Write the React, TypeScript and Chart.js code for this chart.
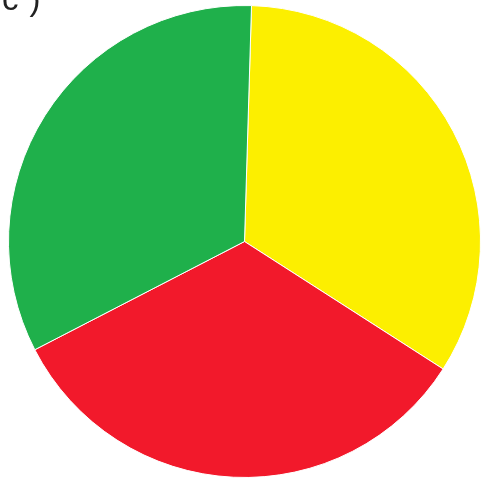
import React, { useEffect, useRef } from "react";
import { Chart, registerables } from "chart.js";

Chart.register(...registerables);

const categories = ["Yellow", "Red", "Green"];
const values = [121, 120, 119];
const colors = ["#fcef00", "#f2192b", "#1fb04b"];
const panelLabel = "c)";

export default function App() {
  const ref = useRef<HTMLCanvasElement | null>(null);
  useEffect(() => {
    document.body.style.margin = "0";
    const chart = new Chart(ref.current!, {
      type: "pie",
      data: {
        labels: categories,
        datasets: [
          {
            data: values,
            backgroundColor: colors,
            borderColor: "#ffffff",
            borderWidth: 1,
          },
        ],
      },
      options: {
        animation: false,
        responsive: false,
        rotation: 1.7,
        layout: { padding: { left: 8, right: 0, top: 2, bottom: 0 } },
        plugins: { legend: { display: false }, tooltip: { enabled: false } },
      },
    });
    return () => chart.destroy();
  }, []);
  return (
    <div style={{ position: "relative", width: 481, height: 481, background: "#fff", overflow: "hidden" }}>
      <canvas ref={ref} width={481} height={481} style={{ position: "absolute", left: 0, top: 0 }} />
      <div
        style={{
          position: "absolute",
          left: 2,
          top: -18,
          fontFamily: "'Liberation Sans', Arial, sans-serif",
          fontSize: 33,
          lineHeight: 1,
          letterSpacing: 11,
          color: "#222",
        }}
      >
        {panelLabel}
      </div>
    </div>
  );
}
